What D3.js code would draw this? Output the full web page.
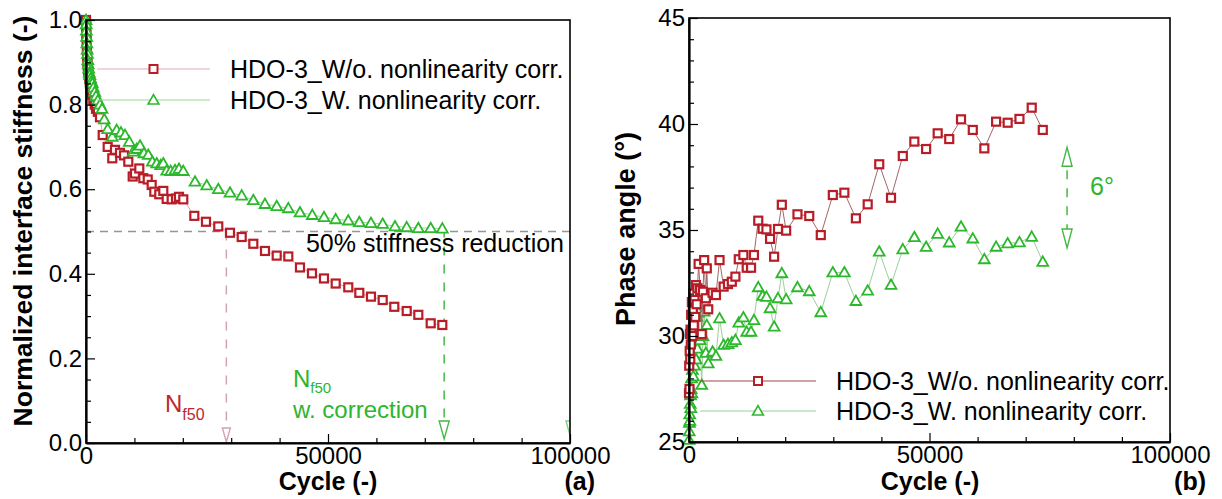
<!DOCTYPE html>
<html><head><meta charset="utf-8">
<script src="https://cdn.jsdelivr.net/npm/d3@7"></script>
<style>
body{margin:0;background:#fff;}
svg text{font-family:"Liberation Sans",Arial,sans-serif;}
</style></head><body>
<svg id="c" width="1222" height="499"></svg>
<script>
// ---------- DATA ----------
// (a) Normalized interface stiffness vs cycle
const stiffWoCycles = [0,40,80,130,180,240,300,380,460,560,680,800,950,1100,1300,1510,1800,2070,2450,2890,3450,4480,5430,5990,7020,7850,8740,9650,10120,11010,11840,12750,13570,14110,15140,15970,16670,17700,18600,19210,20100,22380,24790,27330,29750,32170,34570,36980,39400,41800,44210,46690,49170,51590,54190,56470,58880,61300,63700,66260,68660,71220,73620];
const stiffWoValues = [1.0,0.985,0.965,0.95,0.93,0.915,0.90,0.89,0.88,0.87,0.86,0.85,0.84,0.83,0.823,0.81,0.80,0.79,0.783,0.77,0.728,0.700,0.673,0.693,0.686,0.680,0.665,0.630,0.637,0.649,0.626,0.623,0.610,0.594,0.588,0.596,0.577,0.576,0.578,0.582,0.576,0.537,0.523,0.512,0.497,0.487,0.471,0.454,0.443,0.441,0.415,0.401,0.389,0.377,0.368,0.355,0.346,0.338,0.322,0.312,0.303,0.283,0.279];
const stiffWCycles = [0,40,80,130,180,240,300,380,460,560,680,800,950,1100,1300,1510,1800,2070,2450,2890,3310,3780,4480,5430,6340,7230,8060,8950,9770,10470,11160,11980,12870,13700,14610,15430,15970,16670,17500,18390,19210,20100,22520,24940,27330,29750,32170,34570,36980,39400,41800,44210,46760,49170,51590,54190,56470,58880,61300,63840,66260,68660,71220,73620];
const stiffWValues = [1.0,0.99,0.975,0.96,0.945,0.93,0.92,0.905,0.895,0.885,0.875,0.87,0.862,0.855,0.85,0.84,0.83,0.82,0.81,0.80,0.79,0.765,0.742,0.724,0.740,0.734,0.728,0.712,0.689,0.695,0.703,0.685,0.681,0.665,0.661,0.657,0.661,0.644,0.643,0.645,0.648,0.643,0.618,0.609,0.600,0.592,0.585,0.574,0.565,0.560,0.555,0.545,0.539,0.534,0.529,0.526,0.522,0.520,0.518,0.512,0.510,0.508,0.508,0.507];

// (b) Phase angle vs cycle
const phaseCycles = [0,50,100,150,200,260,320,380,450,520,600,700,800,900,1000,1150,1300,1450,1600,1750,2000,2300,2650,2900,3150,3500,3700,4000,4900,5600,6350,7200,8100,8900,9650,10350,11300,12000,12900,13500,14400,15300,16100,16850,17700,18500,19300,20200,22550,25000,27400,29900,32300,34700,37150,39550,42000,44450,46850,49300,51700,54100,56550,59000,61400,63850,66250,68700,71250,73550];
const phaseWoValues = [27.3,28.6,27.5,29.3,30.1,28.9,30.3,29.6,31.0,30.2,31.6,30.0,31.2,32.0,30.5,31.7,30.9,32.4,31.5,32.25,33.40,32.17,30.09,32.09,33.58,31.78,33.19,31.26,32.04,31.93,33.58,32.33,32.45,32.56,32.80,33.62,33.82,33.22,33.22,33.82,35.44,35.06,35.03,34.58,33.74,35.05,36.19,34.97,35.74,35.66,34.76,36.65,36.76,35.55,36.21,38.10,36.52,38.49,39.17,38.82,39.56,39.29,40.22,39.72,38.85,40.11,40.06,40.24,40.77,39.72];
const phaseWValues = [25.1,25.5,25.9,26.3,26.0,26.8,27.2,26.6,27.5,28.0,27.3,28.4,28.9,28.1,29.1,28.6,29.5,28.9,30.9,29.4,31.1,29.81,27.69,30.0,31.15,29.2,30.52,28.71,29.26,29.06,30.83,29.58,29.62,29.70,29.81,30.63,30.88,30.20,30.20,30.75,32.30,31.89,31.85,31.31,30.44,31.78,32.96,31.73,32.30,32.11,31.12,33.00,33.00,31.65,32.14,33.98,32.41,34.09,34.66,34.20,34.82,34.41,35.16,34.60,33.62,34.21,34.37,34.42,34.68,33.50];

// axis ticks and labels
const xMajorTicks = [0, 50000, 100000];
const xMinorTicks = [10000,20000,30000,40000,60000,70000,80000,90000];
const stiffMajorTicks = [0,0.2,0.4,0.6,0.8,1.0];
const stiffMinorTicks = [0.05,0.1,0.15,0.25,0.3,0.35,0.45,0.5,0.55,0.65,0.7,0.75,0.85,0.9,0.95];
const phaseMajorTicks = [25,30,35,40,45];
const phaseMinorTicks = [26,27,28,29,31,32,33,34,36,37,38,39,41,42,43,44];

const seriesNames = ["HDO-3_W/o. nonlinearity corr.", "HDO-3_W. nonlinearity corr."];

// annotations (data units)
const stiffThreshold = 0.5;
const nf50Wo = 29000;
const nf50W = 74000;
const nf50WTop = 0.507;
const phaseGapCycle = 78600;
const phaseGapRange = [38.9, 34.15];

// ---------- DRAW ----------
const svg = d3.select("#c");
const RED = "#b81c26", GREEN = "#2cb82c";
const FONT = '"Liberation Sans", Arial, sans-serif';

function makeAxes(g, x, y, yMajor, yMinor, yFmt) {
  const [x0, x1] = x.range();
  const [y0, y1] = y.range();
  g.append("rect").attr("x", x0).attr("y", y1).attr("width", x1 - x0).attr("height", y0 - y1)
    .attr("fill", "none").attr("stroke", "#000").attr("stroke-width", 1.6);
  const xm = g.append("g").attr("transform", `translate(0,${y0})`)
    .call(d3.axisBottom(x).tickValues(xMinorTicks).tickSize(-5).tickSizeOuter(0).tickFormat(""));
  xm.select(".domain").remove();
  const ym = g.append("g").attr("transform", `translate(${x0},0)`)
    .call(d3.axisLeft(y).tickValues(yMinor).tickSize(-5).tickSizeOuter(0).tickFormat(""));
  ym.select(".domain").remove();
  const xa = g.append("g").attr("transform", `translate(0,${y0})`)
    .call(d3.axisBottom(x).tickValues(xMajorTicks).tickSize(-9).tickSizeOuter(0).tickPadding(4).tickFormat(d3.format("d")));
  const ya = g.append("g").attr("transform", `translate(${x0},0)`)
    .call(d3.axisLeft(y).tickValues(yMajor).tickSize(-9).tickSizeOuter(0).tickPadding(4).tickFormat(yFmt));
  [xa, ya, xm, ym].forEach(a => {
    a.attr("font-family", FONT).attr("font-size", 24);
    a.selectAll("line").attr("stroke", "#000").attr("stroke-width", 1.2);
    a.selectAll("text").attr("fill", "#000");
  });
  xa.select(".domain").attr("stroke-width", 2.2);
  ya.select(".domain").attr("stroke-width", 2.2);
  xa.selectAll("text").attr("dy", "0.72em");
}

const triPath = "M0,-5.4L5.4,4L-5.4,4Z";
function drawSeries(g, x, y, cycles, values, kind, lineColor) {
  const pts = cycles.map((c, i) => [c, values[i]]);
  g.append("path").datum(pts)
    .attr("d", d3.line().x(d => x(d[0])).y(d => y(d[1])))
    .attr("fill", "none").attr("stroke", lineColor).attr("stroke-width", 1);
  if (kind === "square") {
    g.append("g").selectAll("rect").data(pts).join("rect")
      .attr("x", d => x(d[0]) - 4).attr("y", d => y(d[1]) - 4)
      .attr("width", 8).attr("height", 8)
      .attr("fill", "#fff").attr("stroke", RED).attr("stroke-width", 2.2);
  } else {
    g.append("g").selectAll("path").data(pts).join("path")
      .attr("transform", d => `translate(${x(d[0])},${y(d[1])})`)
      .attr("d", triPath)
      .attr("fill", "#fff").attr("stroke", GREEN).attr("stroke-width", 1.8);
  }
}

function legend(g, lx0, lx1, ly, tx, lineColor, kind, label) {
  g.append("line").attr("x1", lx0).attr("x2", lx1).attr("y1", ly).attr("y2", ly)
    .attr("stroke", lineColor).attr("stroke-width", 1.2);
  const mx = (lx0 + lx1) / 2;
  if (kind === "square") {
    g.append("rect").attr("x", mx - 4).attr("y", ly - 4).attr("width", 8).attr("height", 8)
      .attr("fill", "#fff").attr("stroke", RED).attr("stroke-width", 2);
  } else {
    g.append("path").attr("transform", `translate(${mx},${ly})`).attr("d", triPath)
      .attr("fill", "#fff").attr("stroke", GREEN).attr("stroke-width", 1.6);
  }
  g.append("text").attr("x", tx).attr("y", ly + 9).attr("font-size", 25).attr("fill", "#000").text(label);
}

function arrowDown(g, cx, tipY, halfW, h, color) {
  g.append("path").attr("d", `M${cx - halfW},${tipY - h}L${cx + halfW},${tipY - h}L${cx},${tipY}Z`)
    .attr("fill", "#fff").attr("stroke", color).attr("stroke-width", 1.4);
}
function arrowUp(g, cx, tipY, halfW, h, color) {
  g.append("path").attr("d", `M${cx - halfW},${tipY + h}L${cx + halfW},${tipY + h}L${cx},${tipY}Z`)
    .attr("fill", "#fff").attr("stroke", color).attr("stroke-width", 1.4);
}

// ---------- Panel (a) ----------
{
  const x = d3.scaleLinear().domain([0, 100000]).range([86, 570]);
  const y = d3.scaleLinear().domain([0, 1]).range([443, 20]);
  const g = svg.append("g");
  g.append("clipPath").attr("id", "clipA").append("rect")
    .attr("x", 86).attr("y", 20).attr("width", 484).attr("height", 423);

  g.append("line").attr("x1", x(0)).attr("x2", x(100000)).attr("y1", y(stiffThreshold)).attr("y2", y(stiffThreshold))
    .attr("stroke", "#959595").attr("stroke-width", 1.4).attr("stroke-dasharray", "8,6");
  g.append("line").attr("x1", x(nf50Wo)).attr("x2", x(nf50Wo)).attr("y1", y(stiffThreshold)).attr("y2", y(0) - 14)
    .attr("stroke", "#d2a4ad").attr("stroke-width", 1.5).attr("stroke-dasharray", "9,9");
  arrowDown(g, x(nf50Wo), y(0) - 1, 4, 14, "#d2a4ad");
  g.append("line").attr("x1", x(nf50W)).attr("x2", x(nf50W)).attr("y1", y(nf50WTop)).attr("y2", y(0) - 22)
    .attr("stroke", "#45b845").attr("stroke-width", 1.5).attr("stroke-dasharray", "9,9");
  arrowDown(g, x(nf50W), y(0) - 4, 5, 18, "#45b845");
  const gc = g.append("g").attr("clip-path", "url(#clipA)");
  arrowDown(gc, x(100000) + 1, y(0) - 4, 5, 18, "#7fcf7f");

  drawSeries(g, x, y, stiffWoCycles, stiffWoValues, "square", "#d9a3a8");
  drawSeries(g, x, y, stiffWCycles, stiffWValues, "tri", "#9bd89b");

  makeAxes(g, x, y, stiffMajorTicks, stiffMinorTicks, d3.format(".1f"));

  legend(g, 97, 210, 69, 230, "#e3aab0", "square", seriesNames[0]);
  legend(g, 97, 210, 100, 230, "#98d898", "tri", seriesNames[1]);

  g.append("text").attr("x", 564).attr("y", 252).attr("text-anchor", "end").attr("font-size", 25)
    .attr("fill", "#000").text("50% stiffness reduction");

  const t1 = g.append("text").attr("x", 165).attr("y", 412).attr("font-size", 24).attr("fill", "#c0272d");
  t1.append("tspan").text("N");
  t1.append("tspan").attr("font-size", 16).attr("dy", 8).text("f50");
  const t2 = g.append("text").attr("x", 293).attr("y", 387).attr("font-size", 24).attr("fill", "#2db52d");
  t2.append("tspan").text("N");
  t2.append("tspan").attr("font-size", 15).attr("dy", 6).text("f50");
  g.append("text").attr("x", 293).attr("y", 418).attr("font-size", 24).attr("fill", "#2db52d").text("w. correction");

  g.append("text").attr("x", 328).attr("y", 490).attr("text-anchor", "middle").attr("font-size", 25)
    .attr("font-weight", "bold").attr("fill", "#000").text("Cycle (-)");
  g.append("text").attr("x", 595).attr("y", 490).attr("text-anchor", "end").attr("font-size", 25)
    .attr("font-weight", "bold").attr("fill", "#000").text("(a)");
  g.append("text").attr("transform", "translate(32,221) rotate(-90)").attr("text-anchor", "middle")
    .attr("font-size", 26.5).attr("font-weight", "bold").attr("fill", "#000").text("Normalized interface stiffness (-)");
}

// ---------- Panel (b) ----------
{
  const x = d3.scaleLinear().domain([0, 100000]).range([689, 1170]);
  const y = d3.scaleLinear().domain([25, 45]).range([442, 18]);
  const g = svg.append("g");

  drawSeries(g, x, y, phaseCycles, phaseWValues, "tri", "#9ccf9c");
  drawSeries(g, x, y, phaseCycles, phaseWoValues, "square", "#a06868");

  makeAxes(g, x, y, phaseMajorTicks, phaseMinorTicks, d3.format("d"));

  const ax = x(phaseGapCycle);
  g.append("line").attr("x1", ax).attr("x2", ax).attr("y1", y(phaseGapRange[0]) + 19).attr("y2", y(phaseGapRange[1]) - 19)
    .attr("stroke", "#45b845").attr("stroke-width", 1.5).attr("stroke-dasharray", "9,9").attr("stroke-dashoffset", -4);
  arrowUp(g, ax, y(phaseGapRange[0]), 5, 19, "#45b845");
  arrowDown(g, ax, y(phaseGapRange[1]), 5, 19, "#45b845");
  g.append("text").attr("x", 1090).attr("y", 195).attr("font-size", 25).attr("fill", "#2db52d").text("6°");

  legend(g, 700, 816, 381, 836, "#a04848", "square", seriesNames[0]);
  legend(g, 700, 816, 411, 836, "#98d098", "tri", seriesNames[1]);

  g.append("text").attr("x", 930).attr("y", 490).attr("text-anchor", "middle").attr("font-size", 25)
    .attr("font-weight", "bold").attr("fill", "#000").text("Cycle (-)");
  g.append("text").attr("x", 1206).attr("y", 490).attr("text-anchor", "end").attr("font-size", 25)
    .attr("font-weight", "bold").attr("fill", "#000").text("(b)");
  g.append("text").attr("transform", "translate(635,229) rotate(-90)").attr("text-anchor", "middle")
    .attr("font-size", 27).attr("font-weight", "bold").attr("fill", "#000").text("Phase angle (°)");
}
</script>
</body></html>
